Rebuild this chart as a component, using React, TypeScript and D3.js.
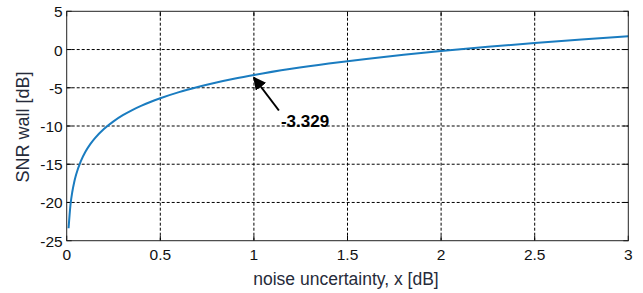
import * as d3 from "d3"

// noise uncertainty x [dB] and SNR wall [dB]
const xValues = [0.01, 0.02, 0.03, 0.04, 0.05, 0.075, 0.1, 0.125, 0.15, 0.2, 0.25, 0.3, 0.35, 0.4, 0.45, 0.5, 0.6, 0.7, 0.8, 0.9, 1.0, 1.2, 1.4, 1.6, 1.8, 2.0, 2.25, 2.5, 2.75, 3.0]
const snrWall = [-23.37, -20.36, -18.6, -17.35, -16.38, -14.62, -13.37, -12.4, -11.61, -10.36, -9.39, -8.59, -7.92, -7.34, -6.83, -6.37, -5.57, -4.9, -4.31, -3.79, -3.329, -2.52, -1.83, -1.23, -0.69, -0.2, 0.35, 0.85, 1.31, 1.74]

const xTicks = [0, 0.5, 1, 1.5, 2, 2.5, 3]
const yTicks = [-25, -20, -15, -10, -5, 0, 5]

const annotX = 1
const annotY = -3.329
const annotLabel = "-3.329"

const width = 643
const height = 293
const margin = { top: 11.3, right: 14.7, bottom: 52.3, left: 66.7 }

export default function App() {
  const x = d3.scaleLinear().domain([0, 3]).range([margin.left, width - margin.right])
  const y = d3.scaleLinear().domain([-25, 5]).range([height - margin.bottom, margin.top])

  const pts: [number, number][] = xValues.map((v, i) => [v, snrWall[i]])
  const line = d3
    .line<[number, number]>()
    .x(d => x(d[0]))
    .y(d => y(d[1]))
    .curve(d3.curveMonotoneX)

  const x0 = x.range()[0]
  const x1 = x.range()[1]
  const y0 = y.range()[0]
  const y1 = y.range()[1]
  const tick = 5
  const font = "'Liberation Sans', Arial, Helvetica, sans-serif"

  // arrow from label toward the marked point
  const tipX = x(annotX)
  const tipY = y(annotY) + 2.5
  const tailX = tipX + 25
  const tailY = tipY + 33

  return (
    <svg
      width={width}
      height={height}
      style={{ position: "absolute", left: 0, top: 0, background: "#fff" }}
      fontFamily={font}
    >
      <defs>
        <marker id="head" viewBox="0 0 10 10" refX="9" refY="5" markerWidth="6.5" markerHeight="6.5" orient="auto">
          <path d="M0,0 L10,5 L0,10 z" fill="#000" />
        </marker>
      </defs>

      {/* grid */}
      {xTicks.filter(t => t > 0 && t < 3).map(t => (
        <line key={"gx" + t} x1={x(t)} x2={x(t)} y1={y0} y2={y1} stroke="#000" strokeWidth={1} strokeDasharray="3,2" />
      ))}
      {yTicks.filter(t => t > -25 && t < 5).map(t => (
        <line key={"gy" + t} x1={x0} x2={x1} y1={y(t)} y2={y(t)} stroke="#000" strokeWidth={1} strokeDasharray="3,2" />
      ))}

      {/* inward ticks */}
      {xTicks.map(t => (
        <g key={"tx" + t}>
          <line x1={x(t)} x2={x(t)} y1={y0} y2={y0 - tick} stroke="#000" />
          <line x1={x(t)} x2={x(t)} y1={y1} y2={y1 + tick} stroke="#000" />
        </g>
      ))}
      {yTicks.map(t => (
        <g key={"ty" + t}>
          <line x1={x0} x2={x0 + tick} y1={y(t)} y2={y(t)} stroke="#000" />
          <line x1={x1} x2={x1 - tick} y1={y(t)} y2={y(t)} stroke="#000" />
        </g>
      ))}

      {/* curve */}
      <path d={line(pts) ?? ""} fill="none" stroke="#1a7cc0" strokeWidth={2} />

      {/* frame */}
      <rect x={x0} y={y1} width={x1 - x0} height={y0 - y1} fill="none" stroke="#222" strokeWidth={1} />

      {/* tick labels */}
      {xTicks.map(t => (
        <text key={"lx" + t} x={x(t)} y={y0 + 19} textAnchor="middle" fontSize={15.5} fill="#111">
          {String(t)}
        </text>
      ))}
      {yTicks.map(t => (
        <text key={"ly" + t} x={x0 - 4} y={y(t) + 6} textAnchor="end" fontSize={15.5} fill="#111">
          {String(t)}
        </text>
      ))}

      {/* axis labels */}
      <text x={346} y={285} textAnchor="middle" fontSize={17.5} fill="#262b3a">
        noise uncertainty, x [dB]
      </text>
      <text
        transform={`translate(29, ${(y0 + y1) / 2 + 1}) rotate(-90)`}
        textAnchor="middle"
        fontSize={18}
        fill="#262b3a"
      >
        SNR wall [dB]
      </text>

      {/* annotation */}
      <line x1={tailX} y1={tailY} x2={tipX} y2={tipY} stroke="#000" strokeWidth={2} markerEnd="url(#head)" />
      <text x={tailX + 2} y={tailY + 17} fontSize={17} fontWeight="bold" fill="#000">
        {annotLabel}
      </text>
    </svg>
  )
}
